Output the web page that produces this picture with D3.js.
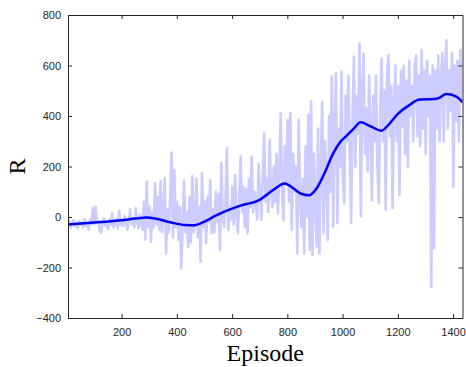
<!DOCTYPE html>
<html>
<head>
<meta charset="utf-8">
<script src="https://cdn.jsdelivr.net/npm/d3@7"></script>
<style>
  body { margin: 0; background: #fff; }
  svg { display: block; }
</style>
</head>
<body>
<script>
// raw reward per episode (read every 5 episodes, starting at episode 6)
var firstEpisode = 6, episodeStep = 5;
var rawReward = [
  -30,-18,-42,-25,-12,-38,-22,-45,-15,-30,
  -20,-40,-8,-35,-25,-50,-10,-30,35,-28,
  40,-25,-15,-55,-62,-20,-5,-35,-18,-48,
  -10,-30,15,-40,-22,-8,-45,25,-30,-12,
  -35,5,-25,-50,-15,30,-28,-5,-40,35,
  -18,-45,10,-30,-50,60,-90,140,-40,40,
  -98,20,-40,135,-30,80,-50,143,-60,10,
  154,-143,30,-60,90,255,-80,186,-40,60,
  -90,40,-202,-30,143,-60,20,-120,80,-100,
  162,-60,-20,150,-80,40,-177,174,-40,60,
  -104,80,-20,146,-64,30,-60,100,-20,90,
  -130,214,0,-40,60,273,-51,40,-10,120,
  -30,166,10,-64,80,239,20,120,-40,110,
  -64,150,40,239,20,100,60,-10,210,80,
  -11,160,332,60,150,20,306,100,40,200,
  60,250,15,180,411,90,-12,280,140,385,
  60,412,-51,250,100,200,-144,385,80,-40,
  150,-144,280,0,405,-130,457,-150,250,60,
  -117,350,-144,200,455,-64,300,150,-91,400,
  100,556,-38,380,569,-25,350,200,576,150,
  55,480,300,560,250,-25,420,635,200,480,
  330,688,2,500,647,250,430,180,560,360,
  67,480,300,560,200,55,420,628,300,500,
  28,560,641,320,520,35,450,600,300,520,
  87,580,360,600,250,540,200,620,400,520,
  300,600,640,320,560,280,661,350,580,250,
  620,400,560,-276,600,-124,580,350,640,300,
  540,650,300,600,701,350,580,420,650,120,
  600,380,620,300,660,450
];

// smoothed reward, read at these episodes
var smoothEpisodes = [6,100,200,250,290,330,380,430,460,500,540,570,630,700,750,790,820,850,878,905,935,965,990,1015,1040,1065,1100,1140,1170,1200,1240,1280,1330,1350,1375,1410,1434];
var smoothReward   = [-30,-22,-13,-6,-2,-8,-22,-32,-33,-18,5,20,45,68,108,133,115,92,86,112,175,250,295,322,350,375,360,342,370,408,442,465,467,472,487,478,455];

var xTicks = [200,400,600,800,1000,1200,1400];
var yTicks = [-400,-200,0,200,400,600,800];

var width = 466, height = 367;
var margin = {left: 68, right: 3.5, top: 15, bottom: 49};

var svg = d3.select("body").append("svg")
    .attr("width", width)
    .attr("height", height);

var x = d3.scaleLinear().domain([6, 1434]).range([margin.left, width - margin.right]);
var y = d3.scaleLinear().domain([-400, 800]).range([height - margin.bottom, margin.top]);

var raw = rawReward.map(function(v, i) { return [firstEpisode + i * episodeStep, v]; });
var smooth = smoothEpisodes.map(function(e, i) { return [e, smoothReward[i]]; });

svg.append("defs").append("clipPath").attr("id", "plotclip")
  .append("rect")
    .attr("x", margin.left).attr("y", margin.top)
    .attr("width", width - margin.right - margin.left)
    .attr("height", height - margin.bottom - margin.top);

var plot = svg.append("g").attr("clip-path", "url(#plotclip)");

plot.append("path")
    .datum(raw)
    .attr("fill", "none")
    .attr("stroke", "#ccccff")
    .attr("stroke-width", 2.6)
    .attr("stroke-linejoin", "round")
    .attr("d", d3.line().x(function(d) { return x(d[0]); }).y(function(d) { return y(d[1]); }));

plot.append("path")
    .datum(smooth)
    .attr("fill", "none")
    .attr("stroke", "#0000ff")
    .attr("stroke-width", 2.5)
    .attr("d", d3.line().curve(d3.curveMonotoneX).x(function(d) { return x(d[0]); }).y(function(d) { return y(d[1]); }));

// axes box, MATLAB style with inward ticks on all sides
var axCol = "#262626";
var tick = 4;
var fontTick = "Liberation Sans, Arial, sans-serif";

function axisG(axis, tx, ty) {
  var g = svg.append("g").attr("transform", "translate(" + tx + "," + ty + ")").call(axis);
  g.select(".domain").attr("stroke", axCol).attr("stroke-width", 1);
  g.selectAll(".tick line").attr("stroke", axCol).attr("stroke-width", 1);
  g.selectAll(".tick text").attr("fill", axCol).attr("font-family", fontTick).attr("font-size", 11);
  return g;
}

var bottom = height - margin.bottom, right = width - margin.right;

axisG(d3.axisBottom(x).tickValues(xTicks).tickFormat(d3.format("d")).tickSizeInner(-tick).tickSizeOuter(0).tickPadding(10), 0, bottom);
axisG(d3.axisTop(x).tickValues(xTicks).tickSizeInner(-tick).tickSizeOuter(0).tickFormat(""), 0, margin.top);
axisG(d3.axisLeft(y).tickValues(yTicks).tickFormat(d3.format("d")).tickSizeInner(-tick).tickSizeOuter(0).tickPadding(7), margin.left, 0);
axisG(d3.axisRight(y).tickValues(yTicks).tickSizeInner(-tick).tickSizeOuter(0).tickFormat(""), right, 0);

svg.append("text")
    .attr("x", (margin.left + right) / 2)
    .attr("y", 361)
    .attr("text-anchor", "middle")
    .attr("font-family", "Liberation Serif, Times New Roman, serif")
    .attr("font-size", 24)
    .attr("fill", "#000")
    .text("Episode");

svg.append("text")
    .attr("transform", "translate(25," + ((margin.top + bottom) / 2) + ") rotate(-90)")
    .attr("text-anchor", "middle")
    .attr("font-family", "Liberation Serif, Times New Roman, serif")
    .attr("font-size", 24)
    .attr("fill", "#000")
    .text("R");
</script>
</body>
</html>
